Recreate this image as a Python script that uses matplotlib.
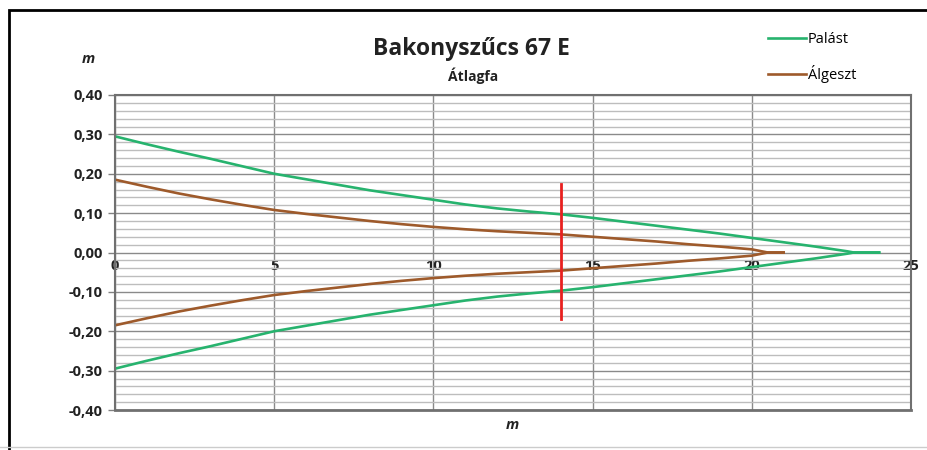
import matplotlib.pyplot as plt
from matplotlib.ticker import MultipleLocator, FuncFormatter
from matplotlib.patches import Rectangle

plt.rcParams['font.family'] = ['Open Sans', 'DejaVu Sans']

# distance along the stem (m) and half-diameter (m)
palast_x = [0, 1, 2, 3, 4, 5, 6, 7, 8, 9, 10, 11, 12, 13, 14, 15, 16, 17, 18, 19, 20, 21, 22, 23, 23.2, 24]
palast_y = [0.295, 0.275, 0.256, 0.238, 0.219, 0.200, 0.186, 0.172, 0.158, 0.146, 0.134, 0.122,
            0.112, 0.104, 0.097, 0.088, 0.078, 0.068, 0.058, 0.048, 0.037, 0.026, 0.015, 0.003, 0.0, 0.0]

algeszt_x = [0, 1, 2, 3, 4, 5, 6, 7, 8, 9, 10, 11, 12, 13, 14, 15, 16, 17, 18, 19, 20, 20.5, 21.0]
algeszt_y = [0.185, 0.167, 0.150, 0.135, 0.121, 0.108, 0.098, 0.089, 0.080, 0.072, 0.065, 0.059,
             0.054, 0.050, 0.046, 0.040, 0.034, 0.028, 0.021, 0.015, 0.008, 0.0, 0.0]

# red marker line
marker_x = [14, 14]
marker_y = [-0.17, 0.175]

green = '#27b36e'
brown = '#9e5a2b'

fig = plt.figure(figsize=(9.28, 4.5), dpi=100)
ax = fig.add_axes([115 / 928, 1 - 410 / 450, (911 - 115) / 928, (410 - 95) / 450])

# outer chart frame
fig.patches.append(Rectangle((9 / 928, -0.01), 1.2, 1 - 10 / 450 + 0.01, transform=fig.transFigure,
                             fill=False, edgecolor='black', linewidth=2))
fig.add_artist(plt.Line2D([0, 1], [3 / 450, 3 / 450], transform=fig.transFigure, color='#cccccc', lw=1))

ax.plot(palast_x, palast_y, color=green, lw=1.9, label='Palást')
ax.plot(palast_x, [-v for v in palast_y], color=green, lw=1.9)
ax.plot(algeszt_x, algeszt_y, color=brown, lw=1.9, label='Álgeszt')
ax.plot(algeszt_x, [-v for v in algeszt_y], color=brown, lw=1.9)
ax.plot(marker_x, marker_y, color='#e8201f', lw=2)

ax.set_xlim(0, 25)
ax.set_ylim(-0.4, 0.4)

ax.yaxis.set_major_locator(MultipleLocator(0.1))
ax.yaxis.set_minor_locator(MultipleLocator(0.02))
ax.xaxis.set_major_locator(MultipleLocator(5))
ax.yaxis.set_major_formatter(FuncFormatter(lambda v, p: f'{v:.2f}'.replace('.', ',').replace('-0,00', '0,00')))

ax.grid(which='major', axis='both', color='#8a8a8a', lw=1)
ax.grid(which='minor', axis='y', color='#bdbdbd', lw=1)
ax.set_axisbelow(True)

for s in ['top', 'right', 'left']:
    ax.spines[s].set_color('#707070')
    ax.spines[s].set_linewidth(1.5)
ax.spines['bottom'].set_position(('data', 0))
ax.spines['bottom'].set_visible(False)
ax.axhline(-0.4, color='#707070', lw=2, clip_on=False)

ax.tick_params(axis='y', which='major', length=5, width=1, color='#808080', pad=4,
               labelsize=10.5, direction='out')
ax.tick_params(axis='y', which='minor', length=0)
ax.tick_params(axis='x', length=0, pad=5, labelsize=10.5)
for lab in ax.get_xticklabels() + ax.get_yticklabels():
    lab.set_fontweight('bold')
    lab.set_color('#222222')

fig.text(471 / 928, 1 - 49 / 450, 'Bakonyszűcs 67 E', ha='center', va='center',
         fontsize=16.5, fontweight='bold', color='#222222')
fig.text(473 / 928, 1 - 76 / 450, 'Átlagfa', ha='center', va='center',
         fontsize=10, fontweight='bold', color='#222222')
fig.text(88 / 928, 1 - 59 / 450, 'm', ha='center', va='center', fontsize=10.5,
         fontweight='bold', style='italic', color='#222222')
fig.text(512 / 928, 1 - 425 / 450, 'm', ha='center', va='center', fontsize=10.5,
         fontweight='bold', style='italic', color='#222222')

fig.legend(loc='upper left', bbox_to_anchor=(762 / 928, 1 - 26 / 450), frameon=False,
           fontsize=10.5, handlelength=2.6, handletextpad=0.15, labelspacing=1.25, borderaxespad=0)

fig.savefig('out.png', dpi=100)
